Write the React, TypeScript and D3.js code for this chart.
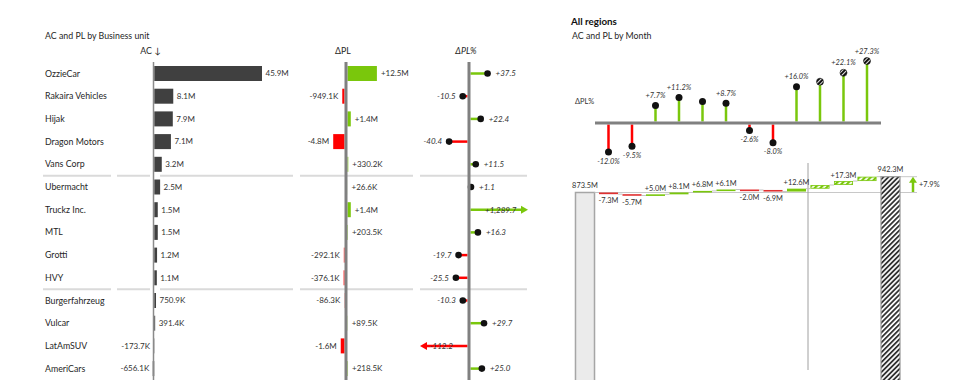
import React from "react";
import * as d3 from "d3";

// ---------- Data ----------
const units = [
  "OzzieCar", "Rakaira Vehicles", "Hijak", "Dragon Motors", "Vans Corp",
  "Ubermacht", "Truckz Inc.", "MTL", "Grotti", "HVY",
  "Burgerfahrzeug", "Vulcar", "LatAmSUV", "AmeriCars",
];
const acValues = [45.9e6, 8.1e6, 7.9e6, 7.1e6, 3.2e6, 2.5e6, 1.5e6, 1.5e6, 1.2e6, 1.1e6, 750.9e3, 391.4e3, -173.7e3, -656.1e3];
const dplValues = [12.5e6, -949.1e3, 1.4e6, -4.8e6, 330.2e3, 26.6e3, 1.4e6, 203.5e3, -292.1e3, -376.1e3, -86.3e3, 89.5e3, -1.6e6, 218.5e3];
const dplPctValues = [37.5, -10.5, 22.4, -40.4, 11.5, 1.1, 1289.7, 16.3, -19.7, -25.5, -10.3, 29.7, -112.2, 25.0];
const separatorsAfter = [4, 9];

const months = ["Jan", "Feb", "Mar", "Apr", "May", "Jun", "Jul", "Aug", "Sep", "Oct", "Nov", "Dec"];
const monthPct = [-12.0, -9.5, 7.7, 11.2, 9.5, 8.7, -2.6, -8.0, 16.0, 18.2, 22.1, 27.3];
const monthPctLabelShown = [true, true, true, true, false, true, true, true, true, false, true, true];
const monthDelta = [-7.3, -5.7, 5.0, 8.1, 6.8, 6.1, -2.0, -6.9, 12.6, 15.9, 17.3, 18.9];
const monthDeltaLabelShown = [true, true, true, true, true, true, true, true, true, false, true, false];
const startValue = 873.5;
const forecastFromIndex = 9;

// ---------- Style ----------
const FONT = "Lato, 'Open Sans', sans-serif";
const GREEN = "#7ac70c";
const RED = "#ff0000";
const WF_RED = "#e03030";
const TEXT = "#333";
const LABEL = "#262626";

function fmtAmount(v: number, signed: boolean) {
  const a = Math.abs(v);
  const s = a >= 1e6 ? (a / 1e6).toFixed(1) + "M" : (a / 1e3).toFixed(1) + "K";
  if (v < 0) return "-" + s;
  return signed ? "+" + s : s;
}
function fmtPct(v: number) {
  const s = d3.format(",.1f")(Math.abs(v));
  return (v < 0 ? "-" : "+") + s;
}

export default function App() {
  // ----- left table -----
  const rowY = d3.scalePoint<string>().domain(units).range([73.5, 73.5 + 22.7 * 13]);
  const barH = 15;
  const acAxisX = 153.5;
  const xAC = d3.scaleLinear().domain([0, 45.9e6]).range([154.25, 262]);
  const dplAxisX = 346;
  const xDPLpos = d3.scaleLinear().domain([0, 12.5e6]).range([347.5, 376.9]);
  const xDPLneg = d3.scaleLinear().domain([0, -12.5e6]).range([344.5, 315.1]);
  const pctAxisX = 469;
  const xPctPos = d3.scaleLinear().domain([0, 100]).range([470.5, 516]);
  const xPctNeg = d3.scaleLinear().domain([0, -100]).range([467.5, 422]);
  const pctMin = 420, pctMax = 528;

  const sepSegments = [[43, 111], [117, 150], [160, 293], [300, 413], [420, 527]];

  // ----- right chart -----
  const cats = ["start", ...months, "total"];
  const xB = d3.scaleBand<string>().domain(cats).range([573.25, 902.25]).paddingInner(0.19).paddingOuter(0.095);
  const bw = xB.bandwidth();
  const cx = (c: string) => (xB(c) as number) + bw / 2;
  const yP = d3.scaleLinear().domain([0, 27.3]).range([123, 61]);
  const yPneg = d3.scaleLinear().domain([0, -12]).range([124.5, 152]);
  const totalValue = startValue + d3.sum(monthDelta);
  const yW = d3.scaleLinear().domain([0, totalValue]).range([393, 176.7]);

  let cum = startValue;
  const wf = monthDelta.map((d, i) => {
    const from = cum;
    cum += d;
    return { m: months[i], i, d, from, to: cum };
  });

  const pctChange = (totalValue / startValue - 1) * 100;
  const arrowX = 913;

  const labelFs = 8.8;
  const numFs = 8;
  const rFs = 7.4;

  return (
    <svg width={980} height={380} style={{ position: "fixed", left: 0, top: 0, background: "#fff" }} fontFamily={FONT}>
      <defs>
        <pattern id="hatchDark" patternUnits="userSpaceOnUse" width={3.5} height={3.5} patternTransform="rotate(45)">
          <rect width={3.5} height={3.5} fill="#fff" />
          <rect width={1.8} height={3.5} fill="#333" />
        </pattern>
        <pattern id="hatchGreen" patternUnits="userSpaceOnUse" width={4} height={4} patternTransform="rotate(45)">
          <rect width={4} height={4} fill="#fff" />
          <rect width={2.2} height={4} fill={GREEN} />
        </pattern>
        <pattern id="hatchDot" patternUnits="userSpaceOnUse" width={3} height={3} patternTransform="rotate(45)">
          <rect width={3} height={3} fill="#111" />
          <rect width={0.9} height={3} fill="#fff" />
        </pattern>
      </defs>

      {/* ===== Left: AC and PL by Business unit ===== */}
      <text x={45} y={38.5} fontSize={labelFs} fill={LABEL}>AC and PL by Business unit</text>
      <text x={acAxisX - 3} y={51} dy="0.35em" fontSize={labelFs} fill={LABEL} textAnchor="middle">AC ↓</text>
      <text x={dplAxisX - 3} y={51} dy="0.35em" fontSize={labelFs} fill={LABEL} textAnchor="middle">ΔPL</text>
      <text x={pctAxisX - 3} y={51} dy="0.35em" fontSize={labelFs} fill={LABEL} textAnchor="middle" fontStyle="italic">ΔPL%</text>

      {separatorsAfter.map((k) => {
        const y = ((rowY(units[k]) as number) + (rowY(units[k + 1]) as number)) / 2;
        return sepSegments.map(([a, b], j) => (
          <line key={k + "-" + j} x1={a} x2={b} y1={y} y2={y} stroke="#dadada" strokeWidth={2} />
        ));
      })}

      {units.map((u, i) => {
        const y = rowY(u) as number;
        const ac = acValues[i];
        const dpl = dplValues[i];
        const pct = dplPctValues[i];
        const acX0 = xAC(0), acX1 = xAC(ac);
        const dplEnd = dpl >= 0 ? xDPLpos(dpl) : xDPLneg(dpl);
        const dplStart = dpl >= 0 ? xDPLpos(0) : xDPLneg(0);
        let px = pct >= 0 ? xPctPos(pct) : xPctNeg(pct);
        const clipped = px < pctMin || px > pctMax;
        px = Math.max(pctMin, Math.min(pctMax, px));
        const pStart = pct >= 0 ? xPctPos(0) : xPctNeg(0);
        const pColor = pct >= 0 ? GREEN : RED;
        return (
          <g key={u}>
            <text x={45} y={y} dy="0.35em" fontSize={labelFs} fill={LABEL}>{u}</text>
            {/* AC */}
            <rect x={Math.min(acX0, acX1)} y={y - barH / 2} width={Math.abs(acX1 - acX0)} height={barH} fill="#404040" />
            <text x={ac >= 0 ? acX1 + 3.5 : Math.min(acX1, acAxisX) - 3.5} y={y} dy="0.35em" fontSize={numFs} fill={TEXT}
              textAnchor={ac >= 0 ? "start" : "end"}>{fmtAmount(ac, false)}</text>
            {/* ΔPL */}
            <rect x={Math.min(dplStart, dplEnd)} y={y - barH / 2} width={Math.abs(dplEnd - dplStart)} height={barH}
              fill={dpl >= 0 ? GREEN : RED} />
            <text x={dpl >= 0 ? dplEnd + 4 : dplEnd - 4} y={y} dy="0.35em" fontSize={numFs} fill={TEXT}
              textAnchor={dpl >= 0 ? "start" : "end"}>{fmtAmount(dpl, true)}</text>
            {/* ΔPL% */}
            {clipped ? (
              <g>
                <line x1={pStart} x2={pct >= 0 ? px - 6 : px + 6} y1={y} y2={y} stroke={pColor} strokeWidth={2.5} />
                <path d={pct >= 0
                  ? `M${px},${y} L${px - 7},${y - 4} L${px - 7},${y + 4} Z`
                  : `M${px},${y} L${px + 7},${y - 4} L${px + 7},${y + 4} Z`} fill={pColor} />
                <text x={pct >= 0 ? pctAxisX + 16 : pctAxisX - 16} y={y} dy="0.35em" fontSize={numFs} fill={TEXT}
                  fontStyle="italic" textAnchor={pct >= 0 ? "start" : "end"}>{fmtPct(pct)}</text>
              </g>
            ) : (
              <g>
                <line x1={pStart} x2={px} y1={y} y2={y} stroke={pColor} strokeWidth={2.5} />
                <circle cx={px} cy={y} r={3.3} fill="#111" />
                <text x={pct >= 0 ? px + 8 : px - 7} y={y} dy="0.35em" fontSize={numFs} fill={TEXT}
                  fontStyle="italic" textAnchor={pct >= 0 ? "start" : "end"}>{fmtPct(pct)}</text>
              </g>
            )}
          </g>
        );
      })}

      {/* axes (on top) */}
      <line x1={acAxisX} x2={acAxisX} y1={62} y2={380} stroke="#8a8a8a" strokeWidth={1.5} />
      <line x1={dplAxisX} x2={dplAxisX} y1={62} y2={380} stroke="#808080" strokeWidth={3} />
      <line x1={pctAxisX} x2={pctAxisX} y1={62} y2={380} stroke="#808080" strokeWidth={3} />

      {/* ===== Right: All regions ===== */}
      <text x={571} y={24.5} fontSize={9.8} fontWeight="bold" fill="#111">All regions</text>
      <text x={572} y={39} fontSize={labelFs} fill={LABEL}>AC and PL by Month</text>
      <text x={575} y={101} dy="0.35em" fontSize={rFs} fill={TEXT}>ΔPL%</text>

      {months.map((m, i) => {
        const v = monthPct[i];
        const x = cx(m);
        const yd = v >= 0 ? yP(v) : yPneg(v);
        const forecast = i >= forecastFromIndex;
        return (
          <g key={m}>
            <line x1={x} x2={x} y1={v >= 0 ? 121.5 : 124.5} y2={yd} stroke={v >= 0 ? GREEN : RED} strokeWidth={2.5} />
            <circle cx={x} cy={yd} r={3.5} fill={forecast ? "url(#hatchDot)" : "#111"} stroke={forecast ? "#111" : "none"} strokeWidth={0.6} />
            {monthPctLabelShown[i] && (
              <text x={x} y={v >= 0 ? yd - 10 : yd + 9} dy="0.35em" fontSize={rFs} fill={TEXT} fontStyle="italic"
                textAnchor="middle">{fmtPct(v)}%</text>
            )}
          </g>
        );
      })}
      <line x1={595} x2={881} y1={123} y2={123} stroke="#808080" strokeWidth={3} />

      {/* waterfall */}
      <line x1={cx("start") + bw / 2} x2={arrowX + 4} y1={yW(startValue)} y2={yW(startValue)} stroke="#c8c8c8" strokeWidth={1} />
      <line x1={cx("total") + bw / 2} x2={arrowX + 4} y1={yW(totalValue)} y2={yW(totalValue)} stroke="#c8c8c8" strokeWidth={1} />
      <line x1={808} x2={808} y1={163} y2={370} stroke="#a0a0a0" strokeWidth={1} />

      <rect x={xB("start")} y={yW(startValue)} width={bw} height={380 - yW(startValue) + 2} fill="#ebebeb" stroke="#a6a6a6" strokeWidth={1.5} />
      <text x={cx("start")} y={yW(startValue) - 7} dy="0.35em" fontSize={rFs} fill={TEXT} textAnchor="middle">{startValue.toFixed(1)}M</text>

      {wf.map((b, i) => {
        const x0 = xB(b.m) as number;
        const yTop = Math.min(yW(b.from), yW(b.to));
        const h = Math.max(Math.abs(yW(b.from) - yW(b.to)), 1.6);
        const forecast = i >= forecastFromIndex;
        const next = i < wf.length - 1 ? (xB(wf[i + 1].m) as number) : (xB("total") as number);
        return (
          <g key={b.m}>
            <line x1={x0 + bw} x2={next} y1={yW(b.to)} y2={yW(b.to)} stroke="#c4c4c4" strokeWidth={1} />
            {forecast ? (
              <rect x={x0 + 0.4} y={yTop + 0.4} width={bw - 0.8} height={h - 0.8} fill="url(#hatchGreen)" stroke={GREEN} strokeWidth={0.8} />
            ) : (
              <rect x={x0} y={yTop} width={bw} height={h} fill={b.d >= 0 ? GREEN : WF_RED} />
            )}
            {monthDeltaLabelShown[i] && (
              <text x={x0 + bw / 2} y={b.d >= 0 ? yTop - 6 : yTop + h + 6.5} dy="0.35em" fontSize={rFs} fill={TEXT}
                textAnchor="middle">{(b.d >= 0 ? "+" : "-") + Math.abs(b.d).toFixed(1)}M</text>
            )}
          </g>
        );
      })}
      <line x1={xB("start") as number + bw} x2={xB("Jan") as number} y1={yW(startValue)} y2={yW(startValue)} stroke="#c4c4c4" strokeWidth={1} />

      <rect x={xB("total")} y={yW(totalValue)} width={bw} height={380 - yW(totalValue) + 2} fill="url(#hatchDark)" stroke="#999" strokeWidth={1.2} />
      <text x={cx("total")} y={yW(totalValue) - 7} dy="0.35em" fontSize={rFs} fill={TEXT} textAnchor="middle">{totalValue.toFixed(1)}M</text>

      <line x1={arrowX} x2={arrowX} y1={yW(startValue) - 0.5} y2={yW(totalValue) + 5} stroke={GREEN} strokeWidth={2.5} />
      <path d={`M${arrowX},${yW(totalValue)} L${arrowX - 4},${yW(totalValue) + 6} L${arrowX + 4},${yW(totalValue) + 6} Z`} fill={GREEN} />
      <text x={arrowX + 6} y={(yW(startValue) + yW(totalValue)) / 2} dy="0.35em" fontSize={rFs} fill={TEXT}>+{pctChange.toFixed(1)}%</text>
    </svg>
  );
}
